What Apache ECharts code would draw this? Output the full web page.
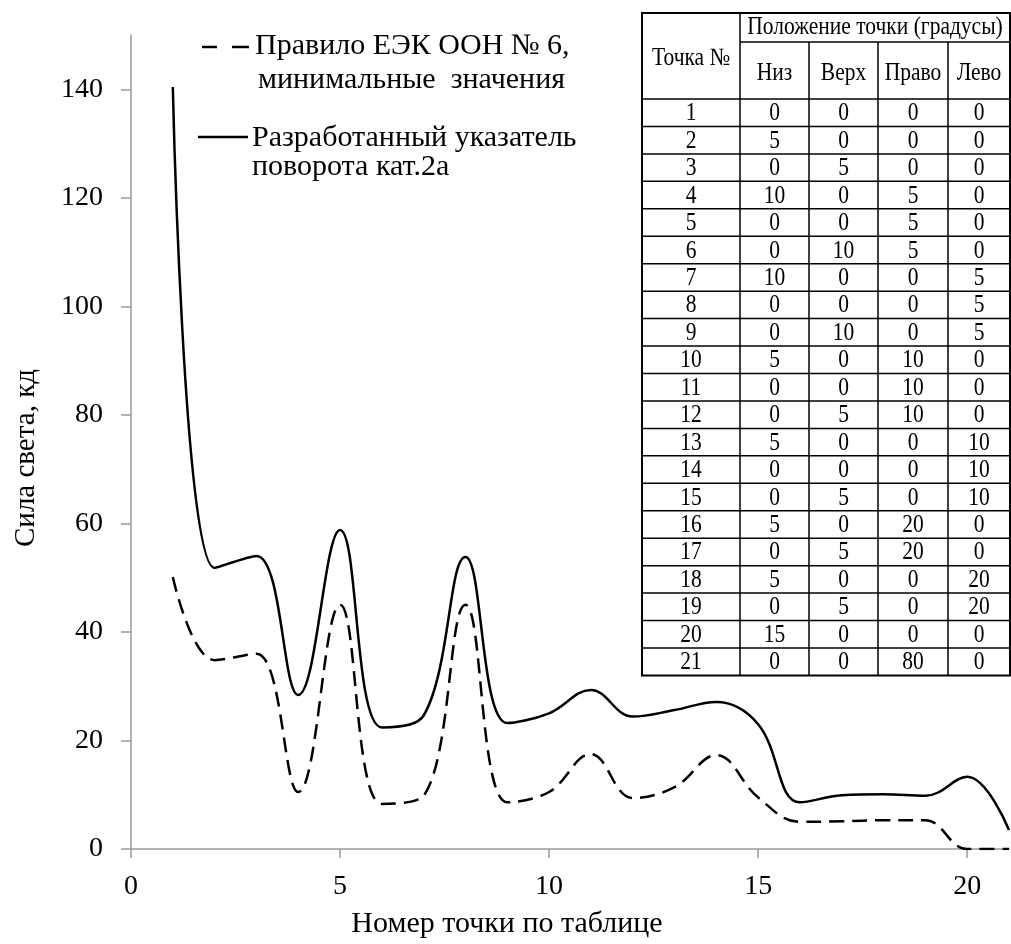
<!DOCTYPE html>
<html>
<head>
<meta charset="utf-8">
<script src="https://cdn.jsdelivr.net/npm/echarts@6/dist/echarts.min.js"></script>
<style>
html,body{margin:0;padding:0;background:#fff;}
#chart{width:1011px;height:944px;}
</style>
</head>
<body>
<div id="chart"></div>
<script>
// ---- data ----
const pointNo = [1,2,3,4,5,6,7,8,9,10,11,12,13,14,15,16,17,18,19,20,21];
const uneceMin = [50.1,34.8,36,10.5,45,8.3,9.8,45,8.6,10.5,17.5,9.4,11.4,17.3,9.5,5,5.1,5.3,5.3,0,0];
const developed = [140.4,51.8,54,28.4,58.8,22.4,24.6,53.8,23.2,25,29.3,24.4,25.6,27.1,23,8.6,9.9,10.1,9.8,13.3,3.5];
const seriesNames = ['Правило ЕЭК ООН № 6, минимальные  значения', 'Разработанный указатель поворота кат.2а'];
const legendLines = [['Правило ЕЭК ООН № 6,', 'минимальные  значения'], ['Разработанный указатель', 'поворота кат.2а']];
const xTicks = [0,5,10,15,20];
const yTicks = [0,20,40,60,80,100,120,140];
const xTitle = 'Номер точки по таблице';
const yTitle = 'Сила света, кд';
// table
const tableHeaderTop = 'Положение точки (градусы)';
const tableHeaderFirst = 'Точка №';
const tableColumns = ['Низ', 'Верх', 'Право', 'Лево'];
const tableNiz   = [0,5,0,10,0,0,10,0,0,5,0,0,5,0,0,5,0,5,0,15,0];
const tableVerkh = [0,0,5,0,0,10,0,0,10,0,0,5,0,0,5,0,5,0,5,0,0];
const tablePravo = [0,0,0,5,5,5,0,0,0,10,10,10,0,0,0,20,20,0,0,0,80];
const tableLevo  = [0,0,0,0,0,0,5,5,5,0,0,0,10,10,10,0,0,20,20,0,0];

// ---- layout ----
const FONT = "'Liberation Serif','Times New Roman',serif";
const chart = echarts.init(document.getElementById('chart'), null, {renderer: 'canvas'});

const graphics = [];
// table
const tL = 642, tT = 13;
const colW = [98, 69, 69, 70, 62];
const h1 = 29, h2 = 57, rowH = 27.45;
const colX = [tL];
colW.forEach(w => colX.push(colX[colX.length - 1] + w));
const tR = colX[colX.length - 1];
const tB = tT + h1 + h2 + rowH * pointNo.length;
const tFont = '25px ' + FONT;
const tScale = 0.86;
graphics.push({type: 'rect', shape: {x: tL, y: tT, width: tR - tL, height: tB - tT}, style: {fill: '#fff', stroke: '#000', lineWidth: 2}, z: 100});
function hline(x1, x2, y, w) {
  graphics.push({type: 'line', shape: {x1: x1, y1: y, x2: x2, y2: y}, style: {stroke: '#000', lineWidth: w || 1.5}, z: 101});
}
function vline(x, y1, y2, w) {
  graphics.push({type: 'line', shape: {x1: x, y1: y1, x2: x, y2: y2}, style: {stroke: '#000', lineWidth: w || 1.5}, z: 101});
}
function cellText(str, cx, cy) {
  graphics.push({type: 'text', x: cx, y: cy, scaleX: tScale, style: {text: String(str), font: tFont, fill: '#000', align: 'center', verticalAlign: 'middle'}, z: 102});
}
hline(colX[1], tR, tT + h1);
hline(tL, tR, tT + h1 + h2);
for (let i = 1; i < pointNo.length; i++) hline(tL, tR, tT + h1 + h2 + rowH * i);
vline(colX[1], tT, tB);
for (let c = 2; c < colX.length - 1; c++) vline(colX[c], tT + h1, tB);
cellText(tableHeaderFirst, (colX[0] + colX[1]) / 2, tT + (h1 + h2) / 2 + 2);
cellText(tableHeaderTop, (colX[1] + tR) / 2, tT + h1 / 2);
tableColumns.forEach((name, c) => cellText(name, (colX[c + 1] + colX[c + 2]) / 2, tT + h1 + h2 / 2 + 3));
const tableCols = [pointNo, tableNiz, tableVerkh, tablePravo, tableLevo];
pointNo.forEach((p, r) => {
  const cy = tT + h1 + h2 + rowH * (r + 0.5) + 1;
  tableCols.forEach((col, c) => cellText(col[r], (colX[c] + colX[c + 1]) / 2, cy));
});

// legend
const legFont = '30px ' + FONT;
// dashed icon
graphics.push({type: 'line', shape: {x1: 202, y1: 47, x2: 217, y2: 47}, style: {stroke: '#000', lineWidth: 2.5}, z: 50});
graphics.push({type: 'line', shape: {x1: 232, y1: 47, x2: 249, y2: 47}, style: {stroke: '#000', lineWidth: 2.5}, z: 50});
// solid icon
graphics.push({type: 'line', shape: {x1: 198, y1: 137, x2: 248, y2: 137}, style: {stroke: '#000', lineWidth: 2.5}, z: 50});
const legPos = [[[255, 46], [258, 80]], [[252, 138], [252, 167]]];
legendLines.forEach((lines, i) => {
  lines.forEach((ln, j) => {
    graphics.push({type: 'text', x: legPos[i][j][0], y: legPos[i][j][1], style: {text: ln, font: legFont, fill: '#000', align: 'left', verticalAlign: 'middle'}, z: 50});
  });
});

const axisColor = '#9a9a9a';
const option = {
  backgroundColor: '#fff',
  animation: false,
  grid: {left: 131, right: 2, top: 35, bottom: 93, containLabel: false},
  xAxis: {
    type: 'value', min: 0, max: 21, interval: 5,
    name: xTitle, nameLocation: 'middle', nameGap: 60,
    nameTextStyle: {fontFamily: FONT, fontSize: 30, color: '#000', padding: [0, 126, 0, 0]},
    axisLine: {show: true, onZero: false, lineStyle: {color: axisColor, width: 1.5}},
    axisTick: {show: true, length: 9, customValues: xTicks, lineStyle: {color: axisColor, width: 1.5}},
    axisLabel: {customValues: xTicks, margin: 24, fontFamily: FONT, fontSize: 28, color: '#000'},
    splitLine: {show: false}
  },
  yAxis: {
    type: 'value', min: 0, max: 150, interval: 10,
    name: yTitle, nameLocation: 'middle', nameGap: 90, nameRotate: 90,
    nameTextStyle: {fontFamily: FONT, fontSize: 29, color: '#000', padding: [0, 32, 0, 0]},
    axisLine: {show: true, lineStyle: {color: axisColor, width: 1.5}},
    axisTick: {show: true, length: 10, customValues: yTicks, lineStyle: {color: axisColor, width: 1.5}},
    axisLabel: {customValues: yTicks, margin: 28, fontFamily: FONT, fontSize: 28, color: '#000'},
    splitLine: {show: false}
  },
  series: [
    {
      name: seriesNames[0], type: 'line', smooth: 0.4, symbol: 'none',
      data: pointNo.map((p, i) => [p, uneceMin[i]]),
      lineStyle: {color: '#000', width: 2.5, type: [15, 8]}
    },
    {
      name: seriesNames[1], type: 'line', smooth: 0.4, symbol: 'none',
      data: pointNo.map((p, i) => [p, developed[i]]),
      lineStyle: {color: '#000', width: 2.5, type: 'solid'}
    }
  ],
  graphic: graphics
};
chart.setOption(option);
</script>
</body>
</html>
